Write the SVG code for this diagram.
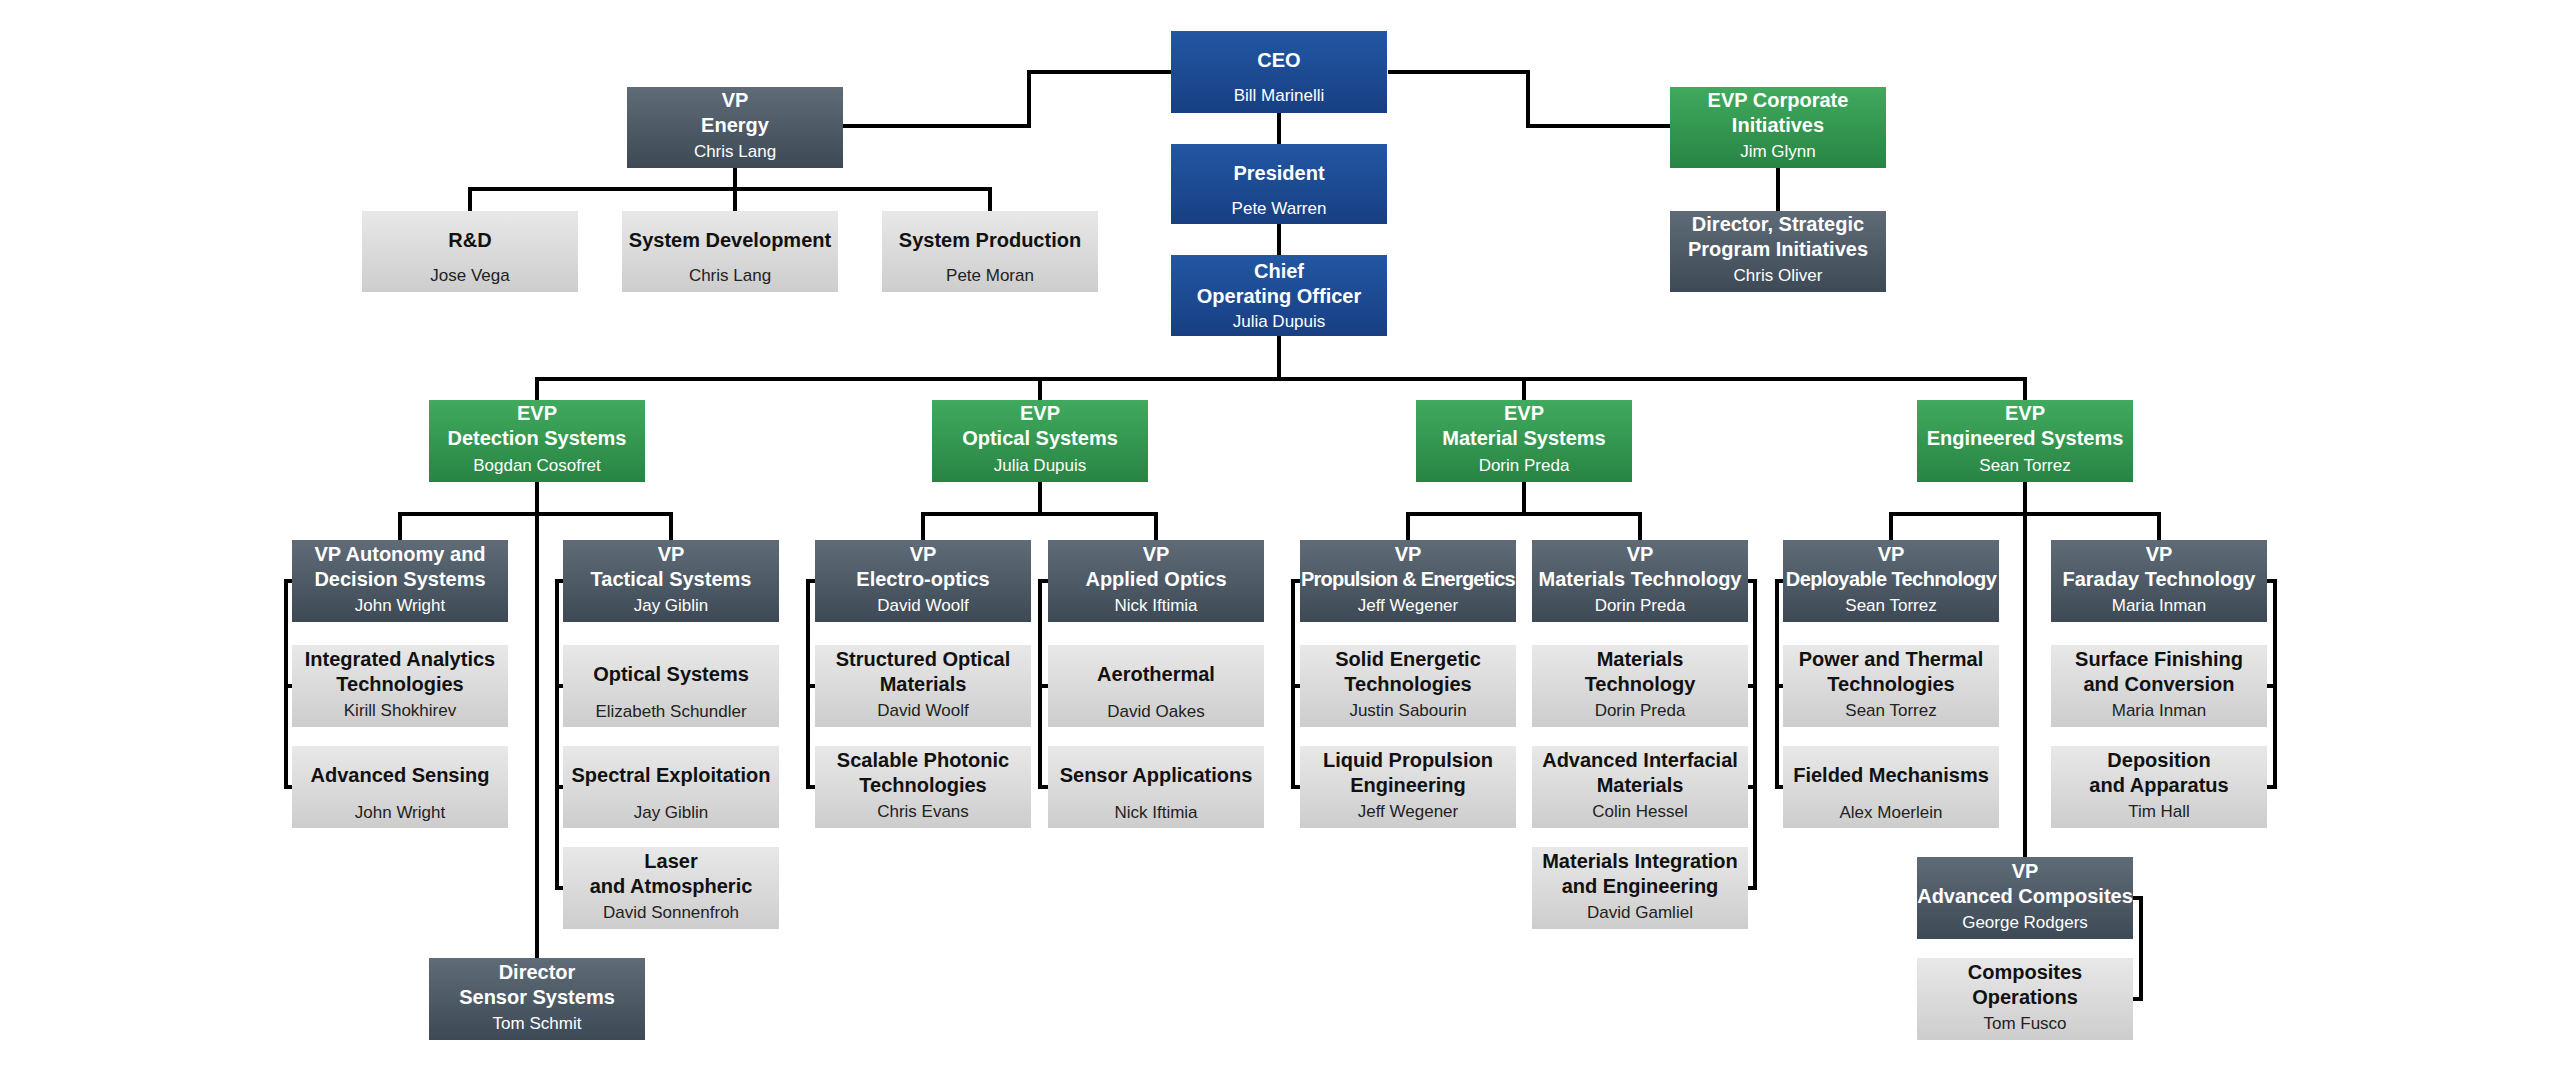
<svg xmlns="http://www.w3.org/2000/svg" width="2560" height="1073" viewBox="0 0 2560 1073">
<defs>
<linearGradient id="gb" x1="0" y1="0" x2="0" y2="1"><stop offset="0" stop-color="#2257a3"/><stop offset="1" stop-color="#173f82"/></linearGradient>
<linearGradient id="gg" x1="0" y1="0" x2="0" y2="1"><stop offset="0" stop-color="#5f6c78"/><stop offset="1" stop-color="#3d4955"/></linearGradient>
<linearGradient id="ge" x1="0" y1="0" x2="0" y2="1"><stop offset="0" stop-color="#40aa5e"/><stop offset="1" stop-color="#288443"/></linearGradient>
<linearGradient id="gl" x1="0" y1="0" x2="0" y2="1"><stop offset="0" stop-color="#e8e8e8"/><stop offset="1" stop-color="#cdcdcd"/></linearGradient>
</defs>
<style>
text{font-family:"Liberation Sans",Arial,sans-serif;text-anchor:middle}
.b{fill:url(#gb)}.g{fill:url(#gg)}.e{fill:url(#ge)}.l{fill:url(#gl)}
.t{font-size:20px;font-weight:bold;fill:#fff}.n{font-size:17px;fill:#fff}
.tl{font-size:20px;font-weight:bold;fill:#111}.nl{font-size:17px;fill:#222}
#conn path{fill:none;stroke:#000;stroke-width:4}
</style>
<rect width="2560" height="1073" fill="#fff"/>
<g id="conn">
<path d="M1171,72 H1029 V126 H843"/>
<path d="M1388,72 H1528 V126 H1670"/>
<path d="M1279,113 V144 M1279,224 V255 M1279,336 V379"/>
<path d="M537,400 V379 H2025 V400 M1040,379 V400 M1524,379 V400"/>
<path d="M735,168 V211 M470,211 V189 H990 V211"/>
<path d="M1778,168 V211"/>
<path d="M537,482 V958 M400,540 V514 H671 V540"/>
<path d="M1040,482 V514 M923,540 V514 H1156 V540"/>
<path d="M1524,482 V514 M1408,540 V514 H1640 V540"/>
<path d="M2025,482 V857 M1891,540 V514 H2159 V540"/>
<path d="M292,581 H286 V787 H292 M286,686 H292"/>
<path d="M563,581 H557 V888 H563 M557,686 H563 M557,787 H563"/>
<path d="M815,581 H808 V787 H815 M808,686 H815"/>
<path d="M1048,581 H1040 V787 H1048 M1040,686 H1048"/>
<path d="M1300,581 H1293 V787 H1300 M1293,686 H1300"/>
<path d="M1747,581 H1755 V888 H1747 M1755,686 H1747 M1755,787 H1747"/>
<path d="M1783,581 H1777 V787 H1783 M1777,686 H1783"/>
<path d="M2266,581 H2275 V787 H2266 M2275,686 H2266"/>
<path d="M2132,898 H2141 V999 H2132"/>
</g>
<g id="ceo"><rect class="b" x="1171" y="31" width="216" height="82"/><text class="t" x="1279" y="67">CEO</text><text class="n" x="1279" y="101">Bill Marinelli</text></g>
<g id="president"><rect class="b" x="1171" y="144" width="216" height="80"/><text class="t" x="1279" y="180">President</text><text class="n" x="1279" y="214">Pete Warren</text></g>
<g id="coo"><rect class="b" x="1171" y="255" width="216" height="81"/><text class="t" x="1279" y="278">Chief</text><text class="t" x="1279" y="303">Operating Officer</text><text class="n" x="1279" y="327">Julia Dupuis</text></g>
<g id="vp-energy"><rect class="g" x="627" y="87" width="216" height="81"/><text class="t" x="735" y="107">VP</text><text class="t" x="735" y="132">Energy</text><text class="n" x="735" y="157">Chris Lang</text></g>
<g id="rd"><rect class="l" x="362" y="211" width="216" height="81"/><text class="tl" x="470" y="247">R&amp;D</text><text class="nl" x="470" y="281">Jose Vega</text></g>
<g id="sysdev"><rect class="l" x="622" y="211" width="216" height="81"/><text class="tl" x="730" y="247">System Development</text><text class="nl" x="730" y="281">Chris Lang</text></g>
<g id="sysprod"><rect class="l" x="882" y="211" width="216" height="81"/><text class="tl" x="990" y="247">System Production</text><text class="nl" x="990" y="281">Pete Moran</text></g>
<g id="evp-corp"><rect class="e" x="1670" y="87" width="216" height="81"/><text class="t" x="1778" y="107">EVP Corporate</text><text class="t" x="1778" y="132">Initiatives</text><text class="n" x="1778" y="157">Jim Glynn</text></g>
<g id="dir-strat"><rect class="g" x="1670" y="211" width="216" height="81"/><text class="t" x="1778" y="231">Director, Strategic</text><text class="t" x="1778" y="256">Program Initiatives</text><text class="n" x="1778" y="281">Chris Oliver</text></g>
<g id="evp-detection"><rect class="e" x="429" y="400" width="216" height="82"/><text class="t" x="537" y="420">EVP</text><text class="t" x="537" y="445">Detection Systems</text><text class="n" x="537" y="471">Bogdan Cosofret</text></g>
<g id="evp-optical"><rect class="e" x="932" y="400" width="216" height="82"/><text class="t" x="1040" y="420">EVP</text><text class="t" x="1040" y="445">Optical Systems</text><text class="n" x="1040" y="471">Julia Dupuis</text></g>
<g id="evp-material"><rect class="e" x="1416" y="400" width="216" height="82"/><text class="t" x="1524" y="420">EVP</text><text class="t" x="1524" y="445">Material Systems</text><text class="n" x="1524" y="471">Dorin Preda</text></g>
<g id="evp-engineered"><rect class="e" x="1917" y="400" width="216" height="82"/><text class="t" x="2025" y="420">EVP</text><text class="t" x="2025" y="445">Engineered Systems</text><text class="n" x="2025" y="471">Sean Torrez</text></g>
<g id="vp-autonomy"><rect class="g" x="292" y="540" width="216" height="82"/><text class="t" x="400" y="561">VP Autonomy and</text><text class="t" x="400" y="586">Decision Systems</text><text class="n" x="400" y="611">John Wright</text></g>
<g id="integrated"><rect class="l" x="292" y="645" width="216" height="82"/><text class="tl" x="400" y="666">Integrated Analytics</text><text class="tl" x="400" y="691">Technologies</text><text class="nl" x="400" y="716">Kirill Shokhirev</text></g>
<g id="adv-sensing"><rect class="l" x="292" y="746" width="216" height="82"/><text class="tl" x="400" y="782">Advanced Sensing</text><text class="nl" x="400" y="818">John Wright</text></g>
<g id="vp-tactical"><rect class="g" x="563" y="540" width="216" height="82"/><text class="t" x="671" y="561">VP</text><text class="t" x="671" y="586">Tactical Systems</text><text class="n" x="671" y="611">Jay Giblin</text></g>
<g id="optical-sys"><rect class="l" x="563" y="645" width="216" height="82"/><text class="tl" x="671" y="681">Optical Systems</text><text class="nl" x="671" y="717">Elizabeth Schundler</text></g>
<g id="spectral"><rect class="l" x="563" y="746" width="216" height="82"/><text class="tl" x="671" y="782">Spectral Exploitation</text><text class="nl" x="671" y="818">Jay Giblin</text></g>
<g id="laser"><rect class="l" x="563" y="847" width="216" height="82"/><text class="tl" x="671" y="868">Laser</text><text class="tl" x="671" y="893">and Atmospheric</text><text class="nl" x="671" y="918">David Sonnenfroh</text></g>
<g id="vp-electro"><rect class="g" x="815" y="540" width="216" height="82"/><text class="t" x="923" y="561">VP</text><text class="t" x="923" y="586">Electro-optics</text><text class="n" x="923" y="611">David Woolf</text></g>
<g id="structured"><rect class="l" x="815" y="645" width="216" height="82"/><text class="tl" x="923" y="666">Structured Optical</text><text class="tl" x="923" y="691">Materials</text><text class="nl" x="923" y="716">David Woolf</text></g>
<g id="scalable"><rect class="l" x="815" y="746" width="216" height="82"/><text class="tl" x="923" y="767">Scalable Photonic</text><text class="tl" x="923" y="792">Technologies</text><text class="nl" x="923" y="817">Chris Evans</text></g>
<g id="vp-applied"><rect class="g" x="1048" y="540" width="216" height="82"/><text class="t" x="1156" y="561">VP</text><text class="t" x="1156" y="586">Applied Optics</text><text class="n" x="1156" y="611">Nick Iftimia</text></g>
<g id="aerothermal"><rect class="l" x="1048" y="645" width="216" height="82"/><text class="tl" x="1156" y="681">Aerothermal</text><text class="nl" x="1156" y="717">David Oakes</text></g>
<g id="sensor-app"><rect class="l" x="1048" y="746" width="216" height="82"/><text class="tl" x="1156" y="782">Sensor Applications</text><text class="nl" x="1156" y="818">Nick Iftimia</text></g>
<g id="vp-propulsion"><rect class="g" x="1300" y="540" width="216" height="82"/><text class="t" x="1408" y="561">VP</text><text class="t" x="1408" y="586" style="letter-spacing:-0.8px">Propulsion &amp; Energetics</text><text class="n" x="1408" y="611">Jeff Wegener</text></g>
<g id="solid"><rect class="l" x="1300" y="645" width="216" height="82"/><text class="tl" x="1408" y="666">Solid Energetic</text><text class="tl" x="1408" y="691">Technologies</text><text class="nl" x="1408" y="716">Justin Sabourin</text></g>
<g id="liquid"><rect class="l" x="1300" y="746" width="216" height="82"/><text class="tl" x="1408" y="767">Liquid Propulsion</text><text class="tl" x="1408" y="792">Engineering</text><text class="nl" x="1408" y="817">Jeff Wegener</text></g>
<g id="vp-materials"><rect class="g" x="1532" y="540" width="216" height="82"/><text class="t" x="1640" y="561">VP</text><text class="t" x="1640" y="586">Materials Technology</text><text class="n" x="1640" y="611">Dorin Preda</text></g>
<g id="mat-tech"><rect class="l" x="1532" y="645" width="216" height="82"/><text class="tl" x="1640" y="666">Materials</text><text class="tl" x="1640" y="691">Technology</text><text class="nl" x="1640" y="716">Dorin Preda</text></g>
<g id="interfacial"><rect class="l" x="1532" y="746" width="216" height="82"/><text class="tl" x="1640" y="767">Advanced Interfacial</text><text class="tl" x="1640" y="792">Materials</text><text class="nl" x="1640" y="817">Colin Hessel</text></g>
<g id="mat-integration"><rect class="l" x="1532" y="847" width="216" height="82"/><text class="tl" x="1640" y="868">Materials Integration</text><text class="tl" x="1640" y="893">and Engineering</text><text class="nl" x="1640" y="918">David Gamliel</text></g>
<g id="vp-deployable"><rect class="g" x="1783" y="540" width="216" height="82"/><text class="t" x="1891" y="561">VP</text><text class="t" x="1891" y="586" style="letter-spacing:-0.6px">Deployable Technology</text><text class="n" x="1891" y="611">Sean Torrez</text></g>
<g id="power"><rect class="l" x="1783" y="645" width="216" height="82"/><text class="tl" x="1891" y="666">Power and Thermal</text><text class="tl" x="1891" y="691">Technologies</text><text class="nl" x="1891" y="716">Sean Torrez</text></g>
<g id="fielded"><rect class="l" x="1783" y="746" width="216" height="82"/><text class="tl" x="1891" y="782">Fielded Mechanisms</text><text class="nl" x="1891" y="818">Alex Moerlein</text></g>
<g id="vp-faraday"><rect class="g" x="2051" y="540" width="216" height="82"/><text class="t" x="2159" y="561">VP</text><text class="t" x="2159" y="586">Faraday Technology</text><text class="n" x="2159" y="611">Maria Inman</text></g>
<g id="surface"><rect class="l" x="2051" y="645" width="216" height="82"/><text class="tl" x="2159" y="666">Surface Finishing</text><text class="tl" x="2159" y="691">and Conversion</text><text class="nl" x="2159" y="716">Maria Inman</text></g>
<g id="deposition"><rect class="l" x="2051" y="746" width="216" height="82"/><text class="tl" x="2159" y="767">Deposition</text><text class="tl" x="2159" y="792">and Apparatus</text><text class="nl" x="2159" y="817">Tim Hall</text></g>
<g id="vp-composites"><rect class="g" x="1917" y="857" width="216" height="82"/><text class="t" x="2025" y="878">VP</text><text class="t" x="2025" y="903">Advanced Composites</text><text class="n" x="2025" y="928">George Rodgers</text></g>
<g id="composites-ops"><rect class="l" x="1917" y="958" width="216" height="82"/><text class="tl" x="2025" y="979">Composites</text><text class="tl" x="2025" y="1004">Operations</text><text class="nl" x="2025" y="1029">Tom Fusco</text></g>
<g id="dir-sensor"><rect class="g" x="429" y="958" width="216" height="82"/><text class="t" x="537" y="979">Director</text><text class="t" x="537" y="1004">Sensor Systems</text><text class="n" x="537" y="1029">Tom Schmit</text></g>
</svg>
